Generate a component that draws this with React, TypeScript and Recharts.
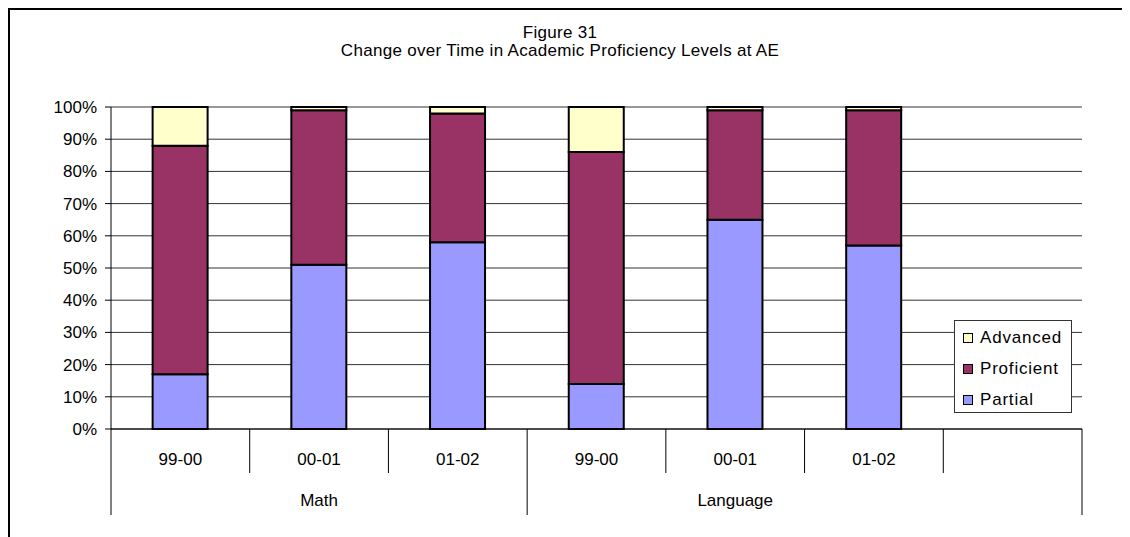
import React from "react";
import { BarChart, Bar, XAxis, YAxis, CartesianGrid, Legend } from "recharts";

const categories = ["99-00", "00-01", "01-02", "99-00", "00-01", "01-02", ""];
const subjects = ["Math", "Math", "Math", "Language", "Language", "Language", "Language"];
const partial = [17, 51, 58, 14, 65, 57, null];
const proficient = [71, 48, 40, 72, 34, 42, null];
const advanced = [12, 1, 2, 14, 1, 1, null];
const yTicks = [0, 10, 20, 30, 40, 50, 60, 70, 80, 90, 100];
const titleLines = ["Figure 31", "Change over Time in Academic Proficiency Levels at AE"];
const seriesNames = ["Partial", "Proficient", "Advanced"];
const seriesColors = ["#9999FF", "#993366", "#FFFFCC"];

const FONT = "'Liberation Sans', Arial, Helvetica, sans-serif";
const FS = 17;

const data = categories.map((c, i) => ({
  cat: c,
  subject: subjects[i],
  Partial: partial[i],
  Proficient: proficient[i],
  Advanced: advanced[i],
}));

// middle labelled index for each subject group
const groupMid: Record<number, string> = {};
{
  const uniq = Array.from(new Set(subjects));
  uniq.forEach((s) => {
    const idxs = subjects
      .map((v, i) => (v === s && categories[i] !== "" ? i : -1))
      .filter((i) => i >= 0);
    if (idxs.length) groupMid[idxs[Math.floor(idxs.length / 2)]] = s;
  });
}

function XTick(props: any) {
  const { x, y, payload } = props;
  const i = props.index ?? payload.index;
  const half = payload.offset ?? 0;
  const shortLen = 44;
  const longLen = 86;
  const isBoundary = i === categories.length - 1 || subjects[i] !== subjects[i + 1];
  return (
    <g>
      <text
        x={x}
        y={y + 30}
        textAnchor="middle"
        dominantBaseline="central"
        fill="#000"
        fontSize={FS}
        fontFamily={FONT}
      >
        {categories[i]}
      </text>
      {i === 0 && (
        <line x1={x - half} x2={x - half} y1={y} y2={y + longLen} stroke="#000" strokeWidth={1} />
      )}
      <line
        x1={x + half}
        x2={x + half}
        y1={y}
        y2={y + (isBoundary ? longLen : shortLen)}
        stroke="#000"
        strokeWidth={1}
      />
      {groupMid[i] && (
        <text
          x={x}
          y={y + 71}
          textAnchor="middle"
          dominantBaseline="central"
          fill="#000"
          fontSize={FS}
          fontFamily={FONT}
        >
          {groupMid[i]}
        </text>
      )}
    </g>
  );
}

function LegendBox() {
  const items = seriesNames.map((n, i) => ({ n, c: seriesColors[i] })).reverse();
  return (
    <div
      style={{
        boxSizing: "border-box",
        width: 118,
        height: 93,
        border: "1px solid #333",
        background: "#fff",
        paddingTop: 1,
        paddingLeft: 8,
        fontFamily: FONT,
        fontSize: FS,
        color: "#000",
      }}
    >
      {items.map((it) => (
        <div key={it.n} style={{ height: 31, display: "flex", alignItems: "center" }}>
          <span
            style={{
              display: "inline-block",
              boxSizing: "border-box",
              width: 10,
              height: 10,
              background: it.c,
              border: "1.5px solid #000",
              marginRight: 7,
            }}
          />
          <span style={{ letterSpacing: 0.8 }}>{it.n}</span>
        </div>
      ))}
    </div>
  );
}

export default function App() {
  return (
    <div
      style={{
        position: "relative",
        width: 1200,
        height: 600,
        border: "2px solid #000",
        boxSizing: "border-box",
        background: "#fff",
      }}
    >
      <style>{`body{overflow:hidden;background:#fff}`}</style>
      <div
        style={{
          position: "absolute",
          left: 0,
          top: 14,
          width: 1100,
          textAlign: "center",
          fontFamily: FONT,
          fontSize: FS,
          lineHeight: "18px",
          color: "#000",
          zIndex: 2,
          letterSpacing: 0.3,
        }}
      >
        {titleLines.map((t) => (
          <div key={t}>{t}</div>
        ))}
      </div>
      <BarChart
        width={1120}
        height={527}
        data={data}
        margin={{ top: 97, right: 48, left: 0, bottom: 22 }}
        barCategoryGap="30%"
        style={{ fontFamily: FONT }}
      >
        <CartesianGrid
          xAxisId="main"
          yAxisId="left"
          vertical={false}
          stroke="#333"
          strokeWidth={1}
        />
        <XAxis
          xAxisId="main"
          dataKey="cat"
          height={86}
          tickSize={0}
          tickMargin={0}
          tickLine={false}
          axisLine={{ stroke: "#000", strokeWidth: 1 }}
          interval={0}
          tick={<XTick />}
        />
        <XAxis
          xAxisId="top"
          orientation="top"
          dataKey="cat"
          height={0}
          tick={false}
          tickLine={false}
          axisLine={{ stroke: "#888", strokeWidth: 2 }}
        />
        <YAxis
          yAxisId="left"
          width={101}
          domain={[0, 100]}
          ticks={yTicks}
          interval={0}
          tickSize={6}
          tickMargin={8}
          tickLine={{ stroke: "#000" }}
          axisLine={{ stroke: "#000", strokeWidth: 1 }}
          tick={{ fill: "#000", fontSize: FS, fontFamily: FONT }}
          tickFormatter={(v: number) => `${v}%`}
        />
        <YAxis
          yAxisId="right"
          orientation="right"
          width={0}
          domain={[0, 100]}
          tick={false}
          tickLine={false}
          axisLine={{ stroke: "#999", strokeWidth: 2 }}
        />
        <Legend
          layout="vertical"
          align="center"
          verticalAlign="middle"
          content={() => <LegendBox />}
          wrapperStyle={{ position: "absolute", left: 944, top: 310, width: 118, height: 93 }}
        />
        {seriesNames.map((n, i) => (
          <Bar
            key={n}
            dataKey={n}
            xAxisId="main"
            yAxisId="left"
            stackId="a"
            fill={seriesColors[i]}
            stroke="#000"
            strokeWidth={2}
            isAnimationActive={false}
          />
        ))}
      </BarChart>
    </div>
  );
}
